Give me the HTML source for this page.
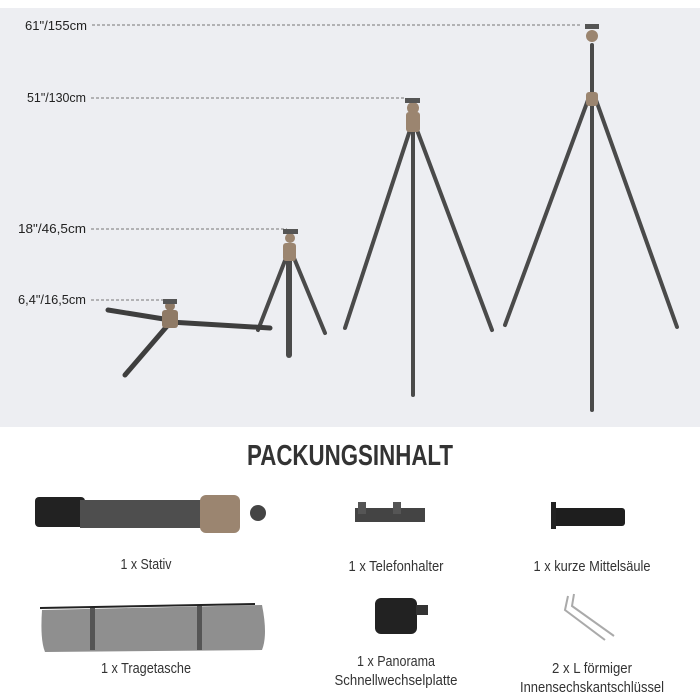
<!DOCTYPE html>
<html><head><meta charset="utf-8"><style>
html,body{margin:0;padding:0;background:#fff;}
svg{display:block;}
text{font-family:"Liberation Sans Narrow","Liberation Sans",sans-serif;}
</style></head><body>
<svg width="700" height="700" viewBox="0 0 700 700" xmlns="http://www.w3.org/2000/svg">
<rect x="0" y="0" width="700" height="700" fill="#fff"/>
<rect x="0" y="8" width="700" height="419" fill="#edeef2"/>
<g fill="#222" font-size="13">
<text x="25" y="30" textLength="62" lengthAdjust="spacingAndGlyphs">61"/155cm</text>
<text x="27" y="102" textLength="59" lengthAdjust="spacingAndGlyphs">51"/130cm</text>
<text x="18" y="233" textLength="68" lengthAdjust="spacingAndGlyphs">18"/46,5cm</text>
<text x="18" y="304" textLength="68" lengthAdjust="spacingAndGlyphs">6,4"/16,5cm</text>
</g>
<g stroke="#777" stroke-width="1" stroke-dasharray="3,2">
<line x1="92" y1="25" x2="582" y2="25"/>
<line x1="91" y1="98" x2="405" y2="98"/>
<line x1="91" y1="229" x2="287" y2="229"/>
<line x1="91" y1="300" x2="165" y2="300"/>
</g>
<g stroke="#4a4a4a" stroke-linecap="round">
<line x1="592" y1="45" x2="592" y2="100" stroke-width="4"/>
<line x1="588" y1="100" x2="505" y2="325" stroke-width="4"/>
<line x1="596" y1="100" x2="677" y2="327" stroke-width="4"/>
<line x1="592" y1="105" x2="592" y2="410" stroke-width="4"/>
</g>
<g fill="#9b8570"><rect x="586" y="92" width="12" height="14" rx="3"/><circle cx="592" cy="36" r="6"/></g>
<rect x="585" y="24" width="14" height="5" fill="#555"/>
<g stroke="#4a4a4a" stroke-linecap="round">
<line x1="410" y1="130" x2="345" y2="328" stroke-width="4"/>
<line x1="417" y1="130" x2="492" y2="330" stroke-width="4"/>
<line x1="413" y1="130" x2="413" y2="395" stroke-width="4"/>
</g>
<g fill="#9b8570"><rect x="406" y="112" width="14" height="20" rx="3"/><circle cx="413" cy="108" r="6"/></g>
<rect x="405" y="98" width="15" height="5" fill="#555"/>
<g stroke="#4a4a4a" stroke-linecap="round">
<line x1="286" y1="258" x2="258" y2="330" stroke-width="4"/>
<line x1="294" y1="258" x2="325" y2="333" stroke-width="4"/>
<line x1="289" y1="258" x2="289" y2="355" stroke-width="6"/>
</g>
<g fill="#9b8570"><rect x="283" y="243" width="13" height="18" rx="3"/><circle cx="290" cy="238" r="5"/></g>
<rect x="283" y="229" width="15" height="5" fill="#555"/>
<g stroke="#3e3e3e" stroke-linecap="round">
<line x1="170" y1="320" x2="108" y2="310" stroke-width="5"/>
<line x1="170" y1="322" x2="270" y2="328" stroke-width="5"/>
<line x1="168" y1="325" x2="125" y2="375" stroke-width="5"/>
</g>
<g fill="#8f7a66"><rect x="162" y="310" width="16" height="18" rx="3"/><circle cx="170" cy="306" r="5"/></g>
<rect x="163" y="299" width="14" height="5" fill="#555"/>
<text x="350" y="465" text-anchor="middle" font-size="29" font-weight="bold" fill="#333" textLength="206" lengthAdjust="spacingAndGlyphs">PACKUNGSINHALT</text>
<g>
<rect x="35" y="497" width="50" height="30" rx="4" fill="#222"/>
<rect x="80" y="500" width="125" height="28" fill="#4e4e4e"/>
<rect x="200" y="495" width="40" height="38" rx="6" fill="#9b8570"/>
<circle cx="258" cy="513" r="8" fill="#444"/>
<rect x="355" y="508" width="70" height="14" fill="#444"/>
<rect x="358" y="502" width="8" height="12" fill="#555"/><rect x="393" y="502" width="8" height="12" fill="#555"/>
<rect x="553" y="508" width="72" height="18" rx="3" fill="#1e1e1e"/>
<rect x="551" y="502" width="5" height="27" fill="#222"/>
<path d="M42 610 Q40 640 45 652 L262 650 Q268 635 262 605 Z" fill="#8f8f8f"/>
<line x1="40" y1="608" x2="255" y2="604" stroke="#222" stroke-width="2"/>
<rect x="90" y="608" width="5" height="42" fill="#555"/><rect x="197" y="606" width="5" height="44" fill="#555"/>
<rect x="375" y="598" width="42" height="36" rx="6" fill="#222"/>
<rect x="416" y="605" width="12" height="10" fill="#333"/>
<path d="M568 596 L565 610 L605 640 M574 594 L572 606 L614 636" stroke="#aaa" stroke-width="2" fill="none"/>
</g>
<g fill="#333" font-size="15" text-anchor="middle" lengthAdjust="spacingAndGlyphs">
<text x="146" y="569" textLength="51" lengthAdjust="spacingAndGlyphs">1 x Stativ</text>
<text x="396" y="571" textLength="95" lengthAdjust="spacingAndGlyphs">1 x Telefonhalter</text>
<text x="592" y="571" textLength="117" lengthAdjust="spacingAndGlyphs">1 x kurze Mittelsäule</text>
<text x="146" y="673" textLength="90" lengthAdjust="spacingAndGlyphs">1 x Tragetasche</text>
<text x="396" y="666" textLength="78" lengthAdjust="spacingAndGlyphs">1 x Panorama</text>
<text x="396" y="685" textLength="123" lengthAdjust="spacingAndGlyphs">Schnellwechselplatte</text>
<text x="592" y="673" textLength="80" lengthAdjust="spacingAndGlyphs">2 x L förmiger</text>
<text x="592" y="692" textLength="144" lengthAdjust="spacingAndGlyphs">Innensechskantschlüssel</text>
</g>
</svg>
</body></html>
